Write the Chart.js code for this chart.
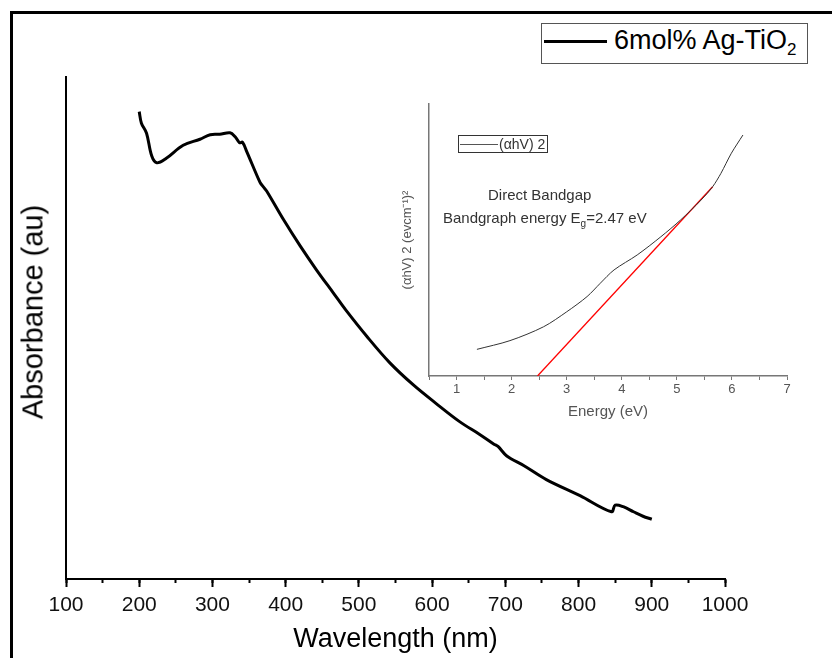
<!DOCTYPE html>
<html lang="en">
<head>
<meta charset="UTF-8">
<title>6mol% Ag-TiO2 absorbance</title>
<script src="https://cdn.jsdelivr.net/npm/chart.js"></script>
<style>
  body { margin: 0; background: #fff; font-family: 'Liberation Sans', Arial, sans-serif; }
  #wrap { position: relative; width: 832px; height: 658px; overflow: hidden; background: #fff; }
  #frame { position: absolute; left: 10px; top: 11px; width: 900px; height: 700px;
           border-left: 3px solid #000; border-top: 3px solid #000; }
  #mainChart { position: absolute; left: 0; top: 0; }
  #insetChart { position: absolute; left: 380px; top: 90px; }
  .box { position: absolute; border: 1px solid #555; background: #fff; }
  .swatch { position: absolute; }
  .txt { position: absolute; white-space: nowrap; }
  #yTitle { position: absolute; left: 33px; top: 312px; font-size: 29px; line-height: 29px; color: #000;
            transform: translate(-50%, -50%) rotate(-90deg); white-space: nowrap; }
</style>
</head>
<body>
<div id="wrap">
  <div id="frame"></div>
  <canvas id="mainChart" width="832" height="658"></canvas>
  <canvas id="insetChart" width="420" height="340"></canvas>

  <div id="yTitle">Absorbance (au)</div>

  <!-- main legend -->
  <div class="box" style="left:541px; top:23px; width:265px; height:39px;"></div>
  <div class="swatch" style="left:544px; top:40px; width:63px; height:3px; background:#000;"></div>
  <div class="txt" style="left:614px; top:27px; font-size:27px; line-height:27px; color:#000;">6mol% Ag-TiO<span style="font-size:17px; position:relative; top:6px;">2</span></div>

  <!-- inset legend -->
  <div class="box" style="left:458px; top:135px; width:88px; height:16px; border-color:#333;"></div>
  <div class="swatch" style="left:460px; top:144px; width:38px; height:1px; background:#555;"></div>
  <div class="txt" style="left:499px; top:137px; font-size:14px; line-height:14px; color:#333;">(αhV) 2</div>

  <!-- inset notes -->
  <div class="txt" style="left:488px; top:187px; font-size:15px; line-height:15px; color:#333;">Direct Bandgap</div>
  <div class="txt" style="left:443px; top:210px; font-size:15px; line-height:15px; color:#333;">Bandgraph energy E<span style="font-size:10px; position:relative; top:4px;">g</span>=2.47 eV</div>
</div>

<script>
// main spectrum (arbitrary absorbance units)
var wavelength = [200, 203, 210, 217, 224, 237, 260, 283, 297, 310, 324, 331, 337, 341, 347,
                  365, 369, 374, 397, 420, 442, 465, 482, 511, 542, 574, 606, 638, 665, 684,
                  690, 702, 725, 756, 802, 845, 850, 861, 875, 888, 900];
var absorbance = [93.1, 90.8, 88.8, 84.3, 82.9, 83.8, 86.4, 87.6, 88.5, 88.6, 88.9, 88.1, 86.9, 87.0, 85.1,
                  79.0, 78.2, 77.3, 71.6, 66.3, 61.6, 57.0, 53.6, 48.3, 43.1, 38.7, 34.9, 31.3, 28.8, 26.9,
                  26.4, 24.5, 22.6, 19.8, 16.6, 13.4, 14.7, 14.4, 13.4, 12.5, 11.9];

// inset Tauc plot
var energy = [1.37, 1.97, 2.58, 3.0, 3.37, 3.61, 3.86, 4.28, 4.71, 5.07, 5.44, 5.65, 5.80, 5.99, 6.20];
var alphaHv2 = [9.8, 13.0, 18.1, 23.6, 29.2, 34.1, 39.0, 44.5, 51.2, 57.4, 64.7, 69.6, 74.5, 81.9, 88.6];
var fitEnergy = [2.47, 5.65];
var fitValue = [0, 69.6];

Chart.defaults.font.family = "'Liberation Sans', Arial, sans-serif";

function pairs(xs, ys) {
    return xs.map(function (x, i) { return { x: x, y: ys[i] }; });
}

var mainChart = new Chart(document.getElementById('mainChart'), {
    type: 'line',
    data: {
        datasets: [{
            label: '6mol% Ag-TiO2',
            data: pairs(wavelength, absorbance),
            borderColor: '#000',
            borderWidth: 3,
            pointRadius: 0,
            tension: 0.35
        }]
    },
    options: {
        responsive: false,
        animation: false,
        layout: { padding: { left: 0, top: 77, right: 107, bottom: 0 } },
        plugins: { legend: { display: false }, tooltip: { enabled: false } },
        scales: {
            x: {
                type: 'linear', position: 'bottom', min: 100, max: 1000,
                afterFit: function (s) { s.height = 79; },
                ticks: {
                    stepSize: 100, font: { size: 21 }, color: '#111', padding: 6, maxRotation: 0, autoSkip: false,
                    callback: function (v) { return String(v); }
                },
                grid: { drawOnChartArea: false, tickLength: 8, tickWidth: 2, tickColor: '#000' },
                border: { display: true, color: '#000', width: 2 },
                title: { display: true, text: 'Wavelength (nm)', font: { size: 27 }, color: '#000', padding: { top: 0, bottom: 2 } }
            },
            // minor ticks every 50 nm
            xMinor: {
                type: 'linear', position: 'bottom', weight: -1, min: 100, max: 1000,
                afterFit: function (s) { s.height = 0; },
                ticks: { stepSize: 50, callback: function () { return ''; } },
                grid: { drawOnChartArea: false, tickLength: 4, tickWidth: 2, tickColor: '#000' },
                border: { display: false }
            },
            y: {
                min: 0, max: 100,
                afterFit: function (s) { s.width = 66; },
                ticks: { display: false },
                grid: { display: false },
                border: { display: true, color: '#000', width: 2 }
            }
        }
    }
});

var insetChart = new Chart(document.getElementById('insetChart'), {
    type: 'line',
    data: {
        datasets: [{
            label: '(αhV) 2',
            data: pairs(energy, alphaHv2),
            borderColor: '#333',
            borderWidth: 1,
            pointRadius: 0,
            tension: 0.3
        }, {
            label: 'linear fit',
            data: pairs(fitEnergy, fitValue),
            borderColor: '#ff0000',
            borderWidth: 1.3,
            pointRadius: 0,
            tension: 0
        }]
    },
    options: {
        responsive: false,
        animation: false,
        layout: { padding: { left: 0, top: 14, right: 13, bottom: 0 } },
        plugins: { legend: { display: false }, tooltip: { enabled: false } },
        scales: {
            x: {
                type: 'linear', min: 0.5, max: 7,
                afterFit: function (s) { s.height = 54; },
                ticks: {
                    stepSize: 0.5, font: { size: 13 }, color: '#555', padding: 2, maxRotation: 0, autoSkip: false,
                    callback: function (v) { return Number.isInteger(v) ? String(v) : ''; }
                },
                grid: { drawOnChartArea: false, tickLength: 4, tickWidth: 1, tickColor: '#777' },
                border: { color: '#777', width: 1.5 },
                title: { display: true, text: 'Energy (eV)', font: { size: 15 }, color: '#555', padding: { top: 0, bottom: 9 } }
            },
            y: {
                min: 0, max: 100,
                afterFit: function (s) { s.width = 49; },
                ticks: { display: false },
                grid: { display: false },
                border: { color: '#777', width: 1.5 },
                title: { display: true, text: '(αhV) 2 (evcm⁻¹)²', font: { size: 13 }, color: '#555', padding: { top: 20, bottom: 0 } }
            }
        }
    }
});
</script>
</body>
</html>
